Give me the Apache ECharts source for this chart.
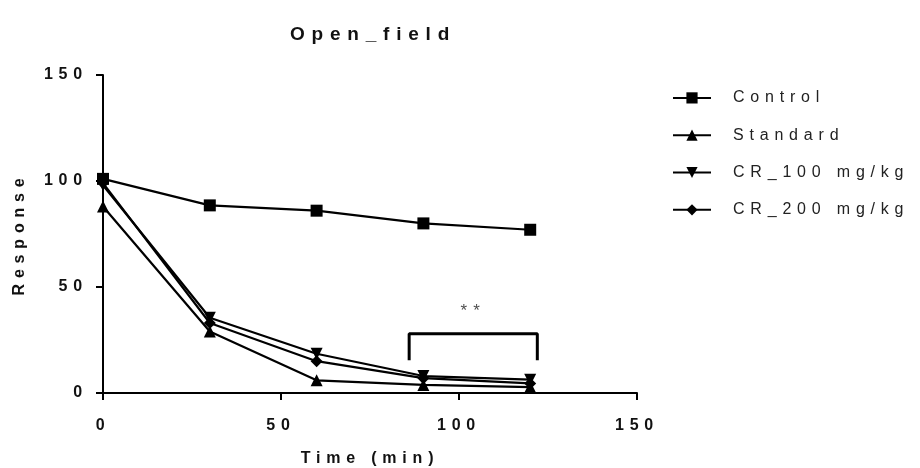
<!DOCTYPE html>
<html>
<head>
<meta charset="utf-8">
<script src="https://cdn.jsdelivr.net/npm/echarts@6/dist/echarts.min.js"></script>
<style>html,body{margin:0;padding:0;background:#fff}#c{width:920px;height:468px}</style>
</head>
<body>
<div id="c"></div>
<script>
var times = [0, 30, 60, 90, 120];
var seriesNames = ['Control', 'Standard', 'CR_100 mg/kg', 'CR_200 mg/kg'];
var control = [101, 88.5, 86, 80, 77];
var standard = [88, 29, 6, 3.8, 2.8];
var cr100 = [98, 35.5, 18.5, 8, 6.3];
var cr200 = [99, 33, 15, 7, 4.5];
var bracketX = [86, 86, 122, 122];
var bracketY = [15.5, 28, 28, 15.5];
var starX = 104, starY = 38.5, starText = '**';

function pairs(xs, ys) { return xs.map(function (x, i) { return [x, ys[i]]; }); }

// The reference uses widely tracked lettering; emulate it with canvas letter spacing.
(function () {
  var P = window.CanvasRenderingContext2D && CanvasRenderingContext2D.prototype;
  if (!P || !('letterSpacing' in P)) return;
  function setSp(ctx) {
    var m = /(\d+(?:\.\d+)?)px/.exec(ctx.font || '');
    var s = m ? parseFloat(m[1]) : 12;
    ctx.letterSpacing = (s * 0.36).toFixed(1) + 'px';
  }
  ['fillText', 'strokeText', 'measureText'].forEach(function (fn) {
    var orig = P[fn];
    P[fn] = function () { setSp(this); return orig.apply(this, arguments); };
  });
})();

var FONT = 'Liberation Sans';
var chart = echarts.init(document.getElementById('c'));
function mk(name, vals, symbol, rotate, size) {
  return {
    name: name, type: 'line', data: pairs(times, vals),
    symbol: symbol, symbolSize: size, symbolRotate: rotate || 0,
    showAllSymbol: true,
    itemStyle: { color: '#000', borderWidth: 0 },
    lineStyle: { color: '#000', width: 2.2 }, z: 3, animation: false
  };
}
chart.setOption({
  animation: false,
  title: {
    text: 'Open_field', left: 368, top: 17, textAlign: 'center',
    textStyle: { fontFamily: FONT, fontWeight: 'bold', fontSize: 19, color: '#111' }
  },
  legend: {
    data: seriesNames, orient: 'vertical', left: 667, top: 82,
    itemWidth: 38, itemHeight: 14, itemGap: 15.5,
    textStyle: { fontFamily: FONT, fontSize: 16, lineHeight: 16, color: '#222', padding: [0, 0, 0, 17] }
  },
  grid: { left: 103, right: 283, top: 75, bottom: 75, containLabel: false, outerBoundsMode: 'none' },
  xAxis: {
    type: 'value', min: 0, max: 150, interval: 50,
    name: 'Time (min)', nameLocation: 'middle', nameGap: 55,
    nameTextStyle: { fontFamily: FONT, fontWeight: 'bold', fontSize: 16, color: '#111' },
    axisLine: { show: true, onZero: false, lineStyle: { color: '#000', width: 2 } },
    axisTick: { show: true, length: 7, lineStyle: { color: '#000', width: 2 } },
    axisLabel: { margin: 22, fontFamily: FONT, fontWeight: 'bold', fontSize: 16, color: '#111' },
    splitLine: { show: false }
  },
  yAxis: {
    type: 'value', min: 0, max: 150, interval: 50,
    name: 'Response', nameLocation: 'middle', nameGap: 73, nameRotate: 90,
    nameTextStyle: { fontFamily: FONT, fontWeight: 'bold', fontSize: 16, color: '#111' },
    axisLine: { show: true, onZero: false, lineStyle: { color: '#000', width: 2 } },
    axisTick: { show: true, length: 7, lineStyle: { color: '#000', width: 2 } },
    axisLabel: { margin: 15, fontFamily: FONT, fontWeight: 'bold', fontSize: 16, color: '#111' },
    splitLine: { show: false }
  },
  series: [
    mk(seriesNames[0], control, 'rect', 0, 12),
    mk(seriesNames[1], standard, 'triangle', 0, 12),
    mk(seriesNames[2], cr100, 'triangle', 180, 12),
    mk(seriesNames[3], cr200, 'diamond', 0, 12),
    {
      name: 'bracket', type: 'line', data: pairs(bracketX, bracketY),
      symbol: 'none', lineStyle: { color: '#000', width: 3 }, z: 2, animation: false
    },
    {
      name: 'stars', type: 'scatter', data: [[starX, starY]],
      symbolSize: 1, itemStyle: { color: 'rgba(0,0,0,0)' },
      label: { show: true, formatter: starText, position: 'inside', fontFamily: FONT, fontSize: 17, color: '#222' },
      animation: false
    }
  ]
});
</script>
</body>
</html>
